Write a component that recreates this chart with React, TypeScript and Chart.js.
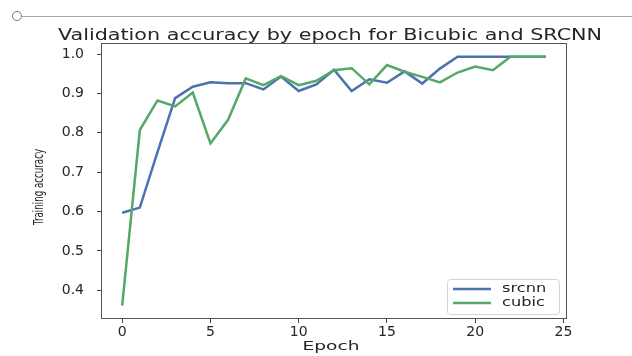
import React, { useEffect, useRef } from "react";
import { Chart, registerables } from "chart.js";

Chart.register(...registerables);

const epochs = [0, 1, 2, 3, 4, 5, 6, 7, 8, 9, 10, 11, 12, 13, 14, 15, 16, 17, 18, 19, 20, 21, 22, 23, 24];
const srcnnAcc = [0.597, 0.61, 0.751, 0.888, 0.917, 0.928, 0.926, 0.926, 0.91, 0.943, 0.906, 0.923, 0.96, 0.906, 0.936, 0.927, 0.956, 0.925, 0.963, 0.993, 0.993, 0.993, 0.993, 0.993, 0.993];
const cubicAcc = [0.361, 0.807, 0.882, 0.867, 0.902, 0.773, 0.833, 0.938, 0.921, 0.944, 0.921, 0.932, 0.959, 0.964, 0.923, 0.972, 0.955, 0.942, 0.928, 0.953, 0.968, 0.959, 0.993, 0.993, 0.993];
const seriesNames = ["srcnn", "cubic"];
const seriesColors = ["#4c72b0", "#55a868"];
const xTickValues = [0, 5, 10, 15, 20, 25];
const yTickValues = [0.4, 0.5, 0.6, 0.7, 0.8, 0.9, 1.0];
const titleText = "Validation accuracy by epoch for Bicubic and SRCNN";
const xLabel = "Epoch";
const yLabel = "Training accuracy";

const TEXT = "#262626";
const FONT = "'DejaVu Sans', sans-serif";

// draws text horizontally stretched (the reference image is widened)
function stretchedText(ctx: any, text: string, x: number, y: number, size: number, sx: number, rotate = 0, baseline = "middle") {
  ctx.save();
  ctx.translate(x, y);
  if (rotate) ctx.rotate(rotate);
  ctx.scale(sx, 1);
  ctx.font = size + "px " + FONT;
  ctx.fillStyle = TEXT;
  ctx.textAlign = "center";
  ctx.textBaseline = baseline;
  ctx.fillText(text, 0, 0);
  ctx.restore();
}

const frameTitlesLegend = {
  id: "frameTitlesLegend",
  afterDraw(chart: any) {
    const { ctx, chartArea } = chart;
    const { left, top, right, bottom } = chartArea;
    const cx = (left + right) / 2;
    ctx.save();
    // axes frame
    ctx.strokeStyle = "#555555";
    ctx.lineWidth = 1;
    ctx.strokeRect(left + 0.5, top + 0.5, right - left - 1, bottom - top - 1);

    // titles
    stretchedText(ctx, titleText, cx - 4, top - 3, 15, 1.38, 0, "alphabetic");
    stretchedText(ctx, xLabel, cx - 3, bottom + 31, 12, 1.55, 0, "alphabetic");
    stretchedText(ctx, yLabel, left - 58, (top + bottom) / 2 + 6, 14, 0.62, -Math.PI / 2, "alphabetic");

    // legend (lower right)
    const w = 112;
    const h = 35;
    const bx = right - 8 - w;
    const by = bottom - 5 - h;
    ctx.fillStyle = "rgba(255,255,255,0.8)";
    ctx.strokeStyle = "#d4d4d4";
    ctx.lineWidth = 1;
    ctx.beginPath();
    if ((ctx as any).roundRect) {
      (ctx as any).roundRect(bx + 0.5, by + 0.5, w, h, 3);
    } else {
      ctx.rect(bx + 0.5, by + 0.5, w, h);
    }
    ctx.fill();
    ctx.stroke();
    chart.data.datasets.forEach((ds: any, i: number) => {
      const y = by + 10 + i * 14;
      ctx.strokeStyle = ds.borderColor;
      ctx.lineWidth = 2.5;
      ctx.beginPath();
      ctx.moveTo(bx + 6, y);
      ctx.lineTo(bx + 44, y);
      ctx.stroke();
      ctx.save();
      ctx.translate(bx + 55, y);
      ctx.scale(1.35, 1);
      ctx.font = "12px " + FONT;
      ctx.fillStyle = TEXT;
      ctx.textAlign = "left";
      ctx.textBaseline = "middle";
      ctx.fillText(ds.label, 0, 0);
      ctx.restore();
    });
    ctx.restore();
  },
};

export default function App() {
  const canvasRef = useRef<HTMLCanvasElement | null>(null);

  useEffect(() => {
    const canvas = canvasRef.current;
    if (!canvas) return;
    const seriesValues = [srcnnAcc, cubicAcc];
    const chart = new Chart(canvas, {
      type: "line",
      data: {
        datasets: seriesNames.map((name, i) => ({
          label: name,
          data: epochs.map((e, j) => ({ x: e, y: seriesValues[i][j] })),
          borderColor: seriesColors[i],
          backgroundColor: seriesColors[i],
          borderWidth: 2.5,
          pointRadius: 0,
          pointHoverRadius: 0,
          tension: 0,
          fill: false,
          order: i === 0 ? 1 : 0,
        })),
      },
      options: {
        animation: false,
        responsive: true,
        maintainAspectRatio: false,
        layout: { padding: { left: 0, right: 65, top: 43, bottom: 0 } },
        plugins: {
          legend: { display: false },
          tooltip: { enabled: false },
          title: { display: false },
        },
        scales: {
          x: {
            type: "linear",
            position: "bottom",
            min: -1.2,
            max: 25.2,
            afterBuildTicks: (s: any) => {
              s.ticks = xTickValues.map((v) => ({ value: v }));
            },
            afterFit: (s: any) => {
              s.height = 37;
            },
            ticks: {
              color: TEXT,
              font: { family: FONT, size: 14 },
              padding: 1,
              maxRotation: 0,
              callback: (v: any) => String(v),
            },
            grid: { display: true, drawOnChartArea: false, drawTicks: true, tickLength: 4, tickColor: "#444444" },
            border: { display: false },
            title: { display: false },
          },
          y: {
            type: "linear",
            position: "left",
            min: 0.327,
            max: 1.028,
            afterBuildTicks: (s: any) => {
              s.ticks = yTickValues.map((v) => ({ value: v }));
            },
            afterFit: (s: any) => {
              s.width = 101;
            },
            ticks: {
              color: TEXT,
              font: { family: FONT, size: 14 },
              padding: 13,
              callback: (v: any) => Number(v).toFixed(1),
            },
            grid: { display: true, drawOnChartArea: false, drawTicks: true, tickLength: 4, tickColor: "#444444" },
            border: { display: false },
            title: { display: false },
          },
        },
      },
      plugins: [frameTitlesLegend],
    } as any);
    return () => chart.destroy();
  }, []);

  return (
    <div style={{ position: "fixed", left: 0, top: 0, width: 632, height: 356, background: "#ffffff" }}>
      <canvas ref={canvasRef} />
      <div
        style={{
          position: "absolute",
          left: 12,
          top: 11,
          width: 10,
          height: 10,
          boxSizing: "border-box",
          border: "1.5px solid #777777",
          borderRadius: "50%",
        }}
      />
      <div style={{ position: "absolute", left: 22, top: 16, width: 610, height: 1, background: "#a8a8a8" }} />
    </div>
  );
}
